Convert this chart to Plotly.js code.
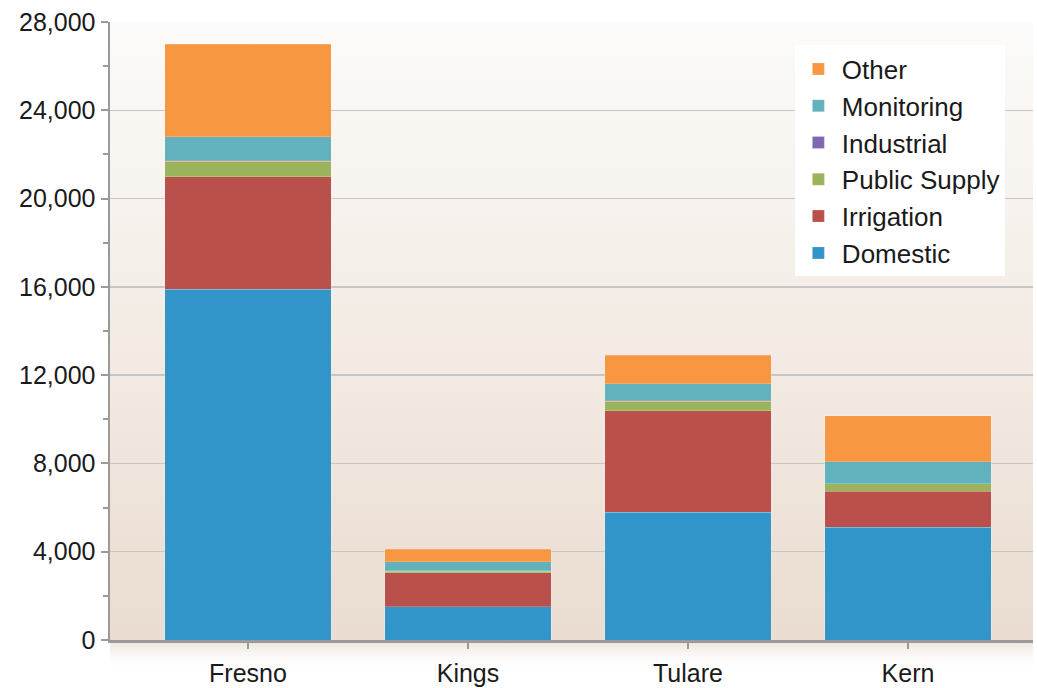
<!DOCTYPE html>
<html>
<head>
<meta charset="utf-8">
<script src="https://cdn.plot.ly/plotly-3.0.1.min.js"></script>
<style>
  html, body { margin: 0; padding: 0; background: #ffffff; }
  #chart { width: 1037px; height: 688px; }
</style>
</head>
<body>
<div id="chart"></div>
<script>
// Well counts by county and use type (stacked)
const counties = ["Fresno", "Kings", "Tulare", "Kern"];

const domestic     = [15900, 1500, 5790, 5110];
const irrigation   = [5100, 1540, 4590, 1640];
const publicSupply = [700, 80, 430, 330];
const industrial   = [30, 10, 60, 10];
const monitoring   = [1070, 420, 740, 990];
const other        = [4200, 570, 1300, 2070];

const yTickVals = [0, 4000, 8000, 12000, 16000, 20000, 24000, 28000];

const series = [
  { name: "Domestic",      values: domestic,     color: "#3195c9" },
  { name: "Irrigation",    values: irrigation,   color: "#b9504c" },
  { name: "Public Supply", values: publicSupply, color: "#9bb35a" },
  { name: "Industrial",    values: industrial,   color: "#8068b0" },
  { name: "Monitoring",    values: monitoring,   color: "#62b2bd" },
  { name: "Other",         values: other,        color: "#f79741" }
];

// Stack bottom-up; legend lists the top segment first
const traces = series.map((s, i) => ({
  type: "bar",
  name: s.name,
  x: counties,
  y: s.values,
  legendgroup: s.name,
  legendrank: series.length - i,
  marker: { color: s.color, line: { color: "rgba(255,255,255,0.25)", width: 0.8 } },
  hoverinfo: "skip"
}));

// Soft vertical gradient behind the plotting area
const bgSvg =
  '<svg xmlns="http://www.w3.org/2000/svg" width="100" height="100" preserveAspectRatio="none">' +
  '<defs><linearGradient id="g" x1="0" y1="0" x2="0" y2="1">' +
  '<stop offset="0" stop-color="#fcfbf9"/><stop offset="1" stop-color="#eadcd0"/>' +
  '</linearGradient></defs><rect width="100" height="100" fill="url(#g)"/></svg>';

// Faded strip under the category axis
const stripSvg =
  '<svg xmlns="http://www.w3.org/2000/svg" width="100" height="100" preserveAspectRatio="none">' +
  '<defs><linearGradient id="h" x1="0" y1="0" x2="0" y2="1">' +
  '<stop offset="0" stop-color="#ece2d8"/><stop offset="1" stop-color="#ffffff" stop-opacity="0"/>' +
  '</linearGradient></defs><rect width="100" height="100" fill="url(#h)"/></svg>';

const toUri = svg => "data:image/svg+xml;utf8," + encodeURIComponent(svg);

const layout = {
  width: 1037,
  height: 688,
  margin: { l: 110, r: 4, t: 22, b: 48 },
  paper_bgcolor: "#ffffff",
  plot_bgcolor: "rgba(0,0,0,0)",
  barmode: "stack",
  bargap: 0.245,
  font: { family: "Liberation Sans, Arial, sans-serif", color: "#1a1a1a" },
  xaxis: {
    type: "category",
    range: [-0.627, 3.568],
    showgrid: false,
    showline: true,
    linecolor: "#9a9a9a",
    linewidth: 2.5,
    ticks: "outside",
    ticklen: 6,
    tickwidth: 2,
    tickcolor: "#9a9a9a",
    ticklabelstandoff: 3,
    tickfont: { size: 25, color: "#1a1a1a" },
    fixedrange: true
  },
  yaxis: {
    range: [0, 28000],
    tickvals: yTickVals,
    tickformat: ",d",
    showgrid: true,
    gridcolor: "#c6c6c6",
    gridwidth: 1.5,
    zeroline: false,
    showline: true,
    linecolor: "#9a9a9a",
    linewidth: 2.5,
    ticks: "outside",
    ticklen: 7,
    tickwidth: 2,
    tickcolor: "#9a9a9a",
    minor: { dtick: 2000, ticks: "outside", ticklen: 5, tickwidth: 2, tickcolor: "#9a9a9a", showgrid: false },
    tickfont: { size: 25, color: "#1a1a1a" },
    fixedrange: true
  },
  legend: {
    x: 0.742,
    y: 0.962,
    xanchor: "left",
    yanchor: "top",
    bgcolor: "#ffffff",
    borderwidth: 0,
    traceorder: "grouped",
    tracegroupgap: 0,
    itemwidth: 37,
    font: { size: 26, color: "#1a1a1a" }
  },
  images: [
    {
      source: toUri(bgSvg),
      xref: "paper", yref: "paper",
      x: 0, y: 1, sizex: 1, sizey: 1,
      xanchor: "left", yanchor: "top",
      sizing: "stretch", layer: "below"
    },
    {
      source: toUri(stripSvg),
      xref: "paper", yref: "paper",
      x: 0, y: 0, sizex: 1, sizey: 0.05,
      xanchor: "left", yanchor: "top",
      sizing: "stretch", layer: "below"
    }
  ],
  showlegend: true
};

Plotly.newPlot("chart", traces, layout, { displayModeBar: false, staticPlot: true });
</script>
</body>
</html>
